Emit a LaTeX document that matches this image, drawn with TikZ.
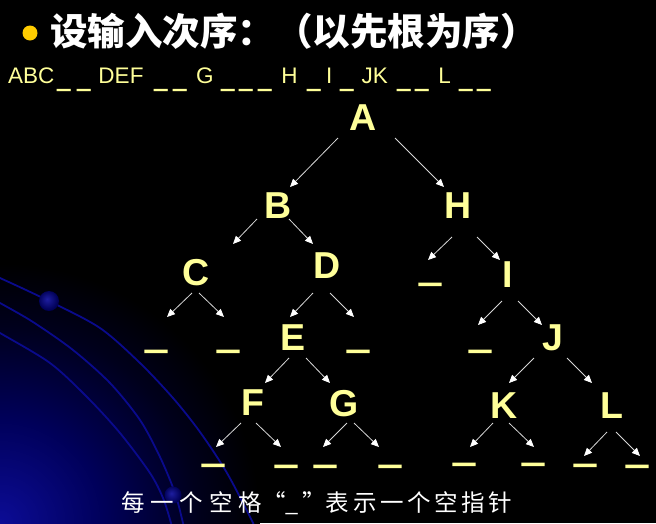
\documentclass[tikz,border=0pt]{standalone}
\usepackage{fontspec}
\usepackage{graphicx}
\setmainfont{Liberation Sans}
\newfontfamily\cjk{Noto Sans CJK SC}
\newfontfamily\barfont{Liberation Sans Bold}[FakeBold=5]
\usetikzlibrary{arrows.meta,calc}
\definecolor{ylw}{RGB}{255,255,153}
\definecolor{bul}{RGB}{255,204,0}
\definecolor{arccol}{RGB}{10,10,140}
\definecolor{arrcol}{RGB}{215,215,215}
\definecolor{glowA}{RGB}{12,12,150}
\definecolor{glowB}{RGB}{0,0,90}
\definecolor{glowC}{RGB}{0,0,28}
\definecolor{sphA}{RGB}{30,30,160}
\definecolor{sphB}{RGB}{0,0,85}
\pgfdeclareradialshading{glow}{\pgfpoint{0bp}{0bp}}{color(0bp)=(glowA); color(10bp)=(glowB); color(19bp)=(glowC); color(25bp)=(black); color(50bp)=(black)}
\pgfdeclareradialshading{sph}{\pgfpoint{-5bp}{5bp}}{color(0bp)=(sphA); color(25bp)=(sphB); color(50bp)=(sphB)}
\newcommand\seqat[2]{\rlap{\kern#1pt#2}}
\newcommand\seqbar{\raisebox{-1.8pt}{\scalebox{1.08}[1.6]{\_}}}
\newcommand\treebar{\raisebox{-5pt}{\barfont\_}}
\begin{document}
\begin{tikzpicture}[x=1pt,y=-1pt,
  lt/.style={font=\fontsize{37.5}{40}\selectfont\bfseries, text=ylw, inner sep=0pt, anchor=base},
  us/.style={lt},
  arr/.style={draw=arrcol, line width=0.8pt, -{Triangle[length=8pt,width=7pt,color=white]}},
  arcline/.style={draw=arccol, line width=1.8pt}]
\useasboundingbox (0,0) rectangle (656,523);
\fill[black] (0,0) rectangle (656,523);
\begin{scope}
  \clip (0,0) rectangle (656,523);
  \shade[shading=glow] (0,523) circle (260pt);
  \draw[arcline] plot[smooth] coordinates {(-30,265) (0,278) (49,301) (100,328) (140,363) (173,398) (200,432) (227,473) (253,523) (262,545)};
  \draw[arcline] plot[smooth] coordinates {(-30,287) (0,303) (33,322) (73,350) (110,383) (140,420) (160,457) (175,493) (183,523) (187,540)};
  \draw[arcline] plot[smooth] coordinates {(-30,316) (0,333) (50,363) (87,397) (120,433) (150,473) (163,498) (171,523) (175,540)};
  \shade[shading=sph] (49,301) circle (10pt);
  \shade[shading=sph] (173,495) circle (8.5pt);
\end{scope}

% title
\node[circle, fill=bul, minimum size=15pt, inner sep=0pt] (bullet) at (30,33) {};
\node[anchor=base west, inner sep=0pt, text=white, font=\cjk\bfseries\fontsize{37.5}{40}\selectfont] (title) at (50,45) {设输入次序：（以先根为序）};

% input sequence
\node[anchor=base west, inner sep=0pt, text=ylw, font=\fontsize{22.5}{26}\selectfont] (seq) at (8,83)
 {\seqat{0}{ABC}\seqat{49}{\seqbar}\seqat{69}{\seqbar}\seqat{90.3}{DEF}\seqat{146}{\seqbar}\seqat{165}{\seqbar}\seqat{188}{G}\seqat{213}{\seqbar}\seqat{231}{\seqbar}\seqat{250}{\seqbar}\seqat{273.3}{H}\seqat{299}{\seqbar}\seqat{318}{I}\seqat{332}{\seqbar}\seqat{353.5}{JK}\seqat{389}{\seqbar}\seqat{407}{\seqbar}\seqat{430.3}{L}\seqat{451}{\seqbar}\seqat{469}{\seqbar}\kern485pt};

% tree letters
\node[lt] (A) at (363,130) {A};
\node[lt] (B) at (278,218) {B};
\node[lt] (H) at (458,218) {H};
\node[lt] (C) at (196,285) {C};
\node[lt] (D) at (327,278) {D};
\node[lt] (E) at (293,350) {E};
\node[lt] (I) at (508,287) {I};
\node[lt] (J) at (553,350) {J};
\node[lt] (F) at (253,415) {F};
\node[lt] (G) at (344,416) {G};
\node[lt] (K) at (504,418) {K};
\node[lt] (L) at (612,418) {L};

% empty pointers
\node[us] (h1) at (430,275.5) {\treebar};
\node[us] (c1) at (156,342.5) {\treebar};
\node[us] (c2) at (228,342.5) {\treebar};
\node[us] (d2) at (358,342.5) {\treebar};
\node[us] (i1) at (480,342.5) {\treebar};
\node[us] (f1) at (213,456.5) {\treebar};
\node[us] (f2) at (286,457.5) {\treebar};
\node[us] (g1) at (325,457.5) {\treebar};
\node[us] (g2) at (390,457.5) {\treebar};
\node[us] (k1) at (464,455.5) {\treebar};
\node[us] (k2) at (533,455.5) {\treebar};
\node[us] (l1) at (585,456.5) {\treebar};
\node[us] (l2) at (637,457.5) {\treebar};

% connectors
\draw[arr] ($(A.base)+(-25,8)$) -- ($(B.base)+(12,-31)$);
\draw[arr] ($(A.base)+(32,8)$) -- ($(H.base)+(-14,-31)$);
\draw[arr] ($(B.base)+(-21,1)$) -- ($(C.base)+(37,-41)$);
\draw[arr] ($(B.base)+(11,1)$) -- ($(D.base)+(-14,-34)$);
\draw[arr] ($(H.base)+(-6,19)$) -- ($(h1.base)+(-2,-15.5)$);
\draw[arr] ($(H.base)+(19,19)$) -- ($(I.base)+(-8,-27)$);
\draw[arr] ($(C.base)+(-4,8)$) -- ($(c1.base)+(11,-25.5)$);
\draw[arr] ($(C.base)+(3,8)$) -- ($(c2.base)+(-4,-25.5)$);
\draw[arr] ($(D.base)+(-14,15)$) -- ($(E.base)+(-3,-33)$);
\draw[arr] ($(D.base)+(3,15)$) -- ($(d2.base)+(-4,-25.5)$);
\draw[arr] ($(E.base)+(-4,8)$) -- ($(F.base)+(12,-32)$);
\draw[arr] ($(E.base)+(13,8)$) -- ($(G.base)+(-14,-33)$);
\draw[arr] ($(F.base)+(-12,8)$) -- ($(f1.base)+(3,-9.5)$);
\draw[arr] ($(F.base)+(3,8)$) -- ($(f2.base)+(-5,-10.5)$);
\draw[arr] ($(G.base)+(3,7)$) -- ($(g1.base)+(-2,-10.5)$);
\draw[arr] ($(G.base)+(10,7)$) -- ($(g2.base)+(-11,-10.5)$);
\draw[arr] ($(I.base)+(-6,14)$) -- ($(i1.base)+(-2,-17.5)$);
\draw[arr] ($(I.base)+(10,14)$) -- ($(J.base)+(-11,-25)$);
\draw[arr] ($(J.base)+(-19,8)$) -- ($(K.base)+(5,-35)$);
\draw[arr] ($(J.base)+(14,8)$) -- ($(L.base)+(-20,-35)$);
\draw[arr] ($(K.base)+(-11,5)$) -- ($(k1.base)+(6,-8.5)$);
\draw[arr] ($(K.base)+(5,5)$) -- ($(k2.base)+(1,-8.5)$);
\draw[arr] ($(L.base)+(-5,14)$) -- ($(l1.base)+(-1,-0.5)$);
\draw[arr] ($(L.base)+(4,14)$) -- ($(l2.base)+(3,-1.5)$);

% caption
\node[anchor=base west, inner sep=0pt, text=white, font=\cjk\fontsize{23.5}{28}\selectfont] (cap) at (121,511)
 {\seqat{0}{每}\seqat{29}{一}\seqat{58}{个}\seqat{88}{空}\seqat{117}{格}\seqat{141}{“}\seqat{164}{\_}\seqat{181}{”}\seqat{204}{表}\seqat{232}{示}\seqat{259}{一}\seqat{286}{个}\seqat{313}{空}\seqat{340}{指}\seqat{367}{针}\kern391pt};
\end{tikzpicture}
\end{document}
